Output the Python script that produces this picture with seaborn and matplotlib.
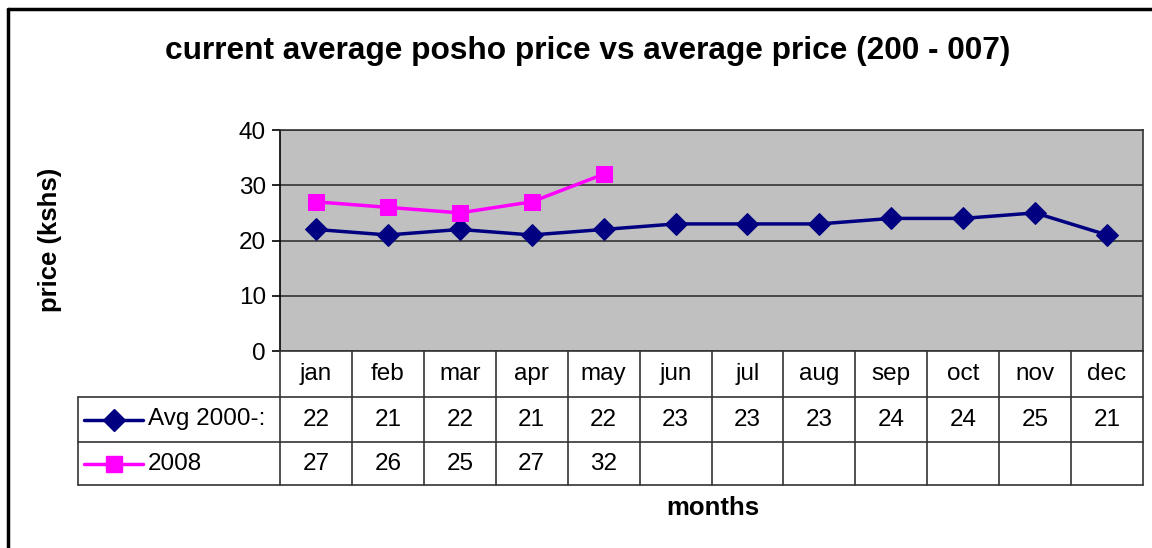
import numpy as np
import pandas as pd
import matplotlib.pyplot as plt
from matplotlib.lines import Line2D
import seaborn as sns

months = ["jan", "feb", "mar", "apr", "may", "jun", "jul", "aug", "sep", "oct", "nov", "dec"]
avg_label = "Avg 2000-:"
avg_prices = [22, 21, 22, 21, 22, 23, 23, 23, 24, 24, 25, 21]
label_2008 = "2008"
prices_2008 = [27, 26, 25, 27, 32]

W, H = 1152, 548
sns.set_style("white")
plt.rcParams["font.family"] = ["Liberation Sans", "DejaVu Sans"]
plt.rcParams["text.color"] = "black"
plt.rcParams["ytick.color"] = "black"
plt.rcParams["ytick.labelcolor"] = "black"

fig = plt.figure(figsize=(W / 100, H / 100), dpi=100)

def fx(x):
    return x / W

def fy(y):
    return 1 - y / H

def line(x0, y0, x1, y1, **kw):
    kw.setdefault("color", "#333333")
    kw.setdefault("lw", 1.2)
    fig.add_artist(Line2D([fx(x0), fx(x1)], [fy(y0), fy(y1)], transform=fig.transFigure, **kw))

# outer chart border (top and left only visible)
line(8, 9, W, 9, color="black", lw=2.5)
line(8, 9, 8, H, color="black", lw=2.5)

# plot area
left, right, top, bottom = 280, 1143, 130, 351
ax = fig.add_axes([fx(left), fy(bottom), fx(right - left), (bottom - top) / H])
ax.set_facecolor("#C0C0C0")

df_avg = pd.DataFrame({"x": np.arange(len(avg_prices)), "price": avg_prices})
df_08 = pd.DataFrame({"x": np.arange(len(prices_2008)), "price": prices_2008})
sns.lineplot(data=df_avg, x="x", y="price", ax=ax, color="#000080", lw=2.5,
             marker="D", markersize=11, markeredgecolor="#000080")
sns.lineplot(data=df_08, x="x", y="price", ax=ax, color="#FF00FF", lw=2.5,
             marker="s", markersize=11, markeredgecolor="#FF00FF")

ax.set_xlim(-0.5, len(months) - 0.5)
ax.set_ylim(0, 40)
ax.set_yticks([0, 10, 20, 30, 40])
ax.set_xticks([])
ax.set_xlabel("")
ax.set_ylabel("")
ax.grid(axis="y", color="#333333", lw=1.2)
ax.set_axisbelow(True)
for s in ax.spines.values():
    s.set_color("#333333")
    s.set_linewidth(1.2)
ax.spines["left"].set_color("black")
ax.tick_params(axis="y", direction="out", length=6, width=1.2, color="black",
               labelcolor="black", labelsize=17.5, pad=4, left=True)

# data table
col_w = (right - left) / len(months)
row_top, row1, row2, row3 = bottom, 397, 442, 485
line(78, row1, right, row1)
line(78, row2, right, row2)
line(78, row3, right, row3)
line(78, row1, 78, row3)
for i in range(len(months) + 1):
    xx = left + i * col_w
    line(xx, row_top, xx, row3)

for i, m in enumerate(months):
    cx = left + (i + 0.5) * col_w
    fig.text(fx(cx), fy((row_top + row1) / 2), m, ha="center", va="center", fontsize=17.5)
    fig.text(fx(cx), fy((row1 + row2) / 2), str(avg_prices[i]), ha="center", va="center", fontsize=17.5)
    if i < len(prices_2008):
        fig.text(fx(cx), fy((row2 + row3) / 2), str(prices_2008[i]), ha="center", va="center", fontsize=17.5)

# legend keys inside the table
for (yc, col, mk, lab) in [((row1 + row2) / 2, "#000080", "D", avg_label),
                           ((row2 + row3) / 2, "#FF00FF", "s", label_2008)]:
    fig.add_artist(Line2D([fx(84), fx(143)], [fy(yc), fy(yc)], transform=fig.transFigure,
                          color=col, lw=2.5))
    fig.add_artist(Line2D([fx(114)], [fy(yc)], transform=fig.transFigure, color=col,
                          marker=mk, markersize=11, markeredgecolor=col, lw=0))
    fig.text(fx(148), fy(yc), lab, ha="left", va="center", fontsize=17.5)

fig.text(fx(588), fy(51), "current average posho price vs average price (200 - 007)",
         ha="center", va="center", fontsize=22.8, fontweight="bold")
fig.text(fx(50), fy(240), "price (kshs)", ha="center", va="center", rotation=90,
         fontsize=18.5, fontweight="bold")
fig.text(fx(713), fy(508), "months", ha="center", va="center", fontsize=18.5, fontweight="bold")

fig.savefig("out.png", dpi=100)
